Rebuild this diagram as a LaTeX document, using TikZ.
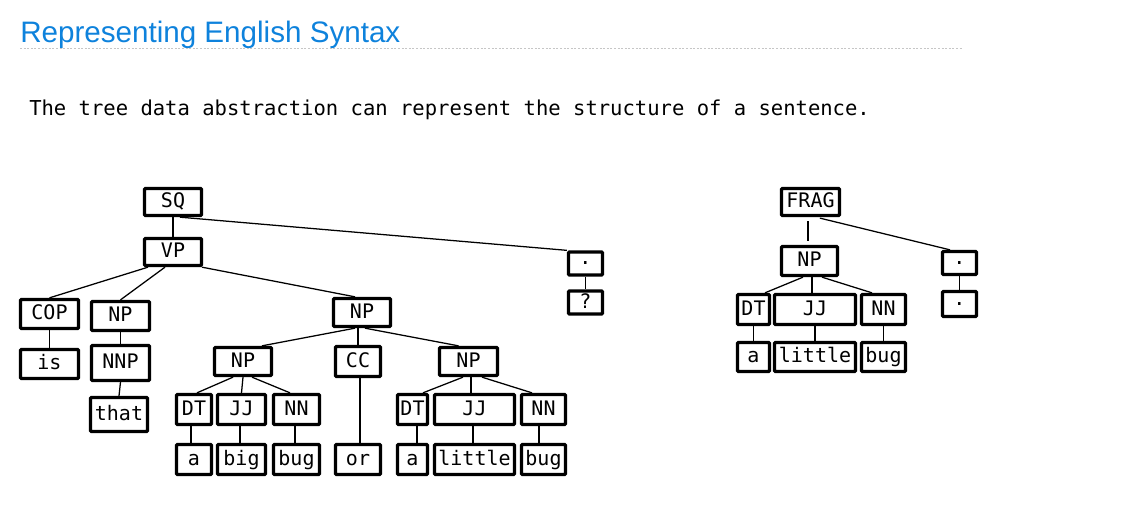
\documentclass[tikz,border=0pt]{standalone}
\usepackage{fontspec}
\setmonofont{DejaVu Sans Mono}
\newfontfamily\headfont{Liberation Sans}
\usetikzlibrary{calc}
\definecolor{headblue}{RGB}{14,130,220}
\begin{document}
\begin{tikzpicture}[x=0.75pt,y=-0.75pt,
  tbox/.style 2 args={draw, line width=2.5pt, rounded corners=0.8pt, inner sep=0pt,
    minimum width={(#1-3)*0.75pt}, minimum height={(#2-3)*0.75pt},
    text height=0.88em, text depth=0pt,
    font=\ttfamily\fontsize{15}{18}\selectfont},
  dotbox/.style={text height=, text depth=},
  edge/.style={line width=0.95pt}]
\useasboundingbox (0,0) rectangle (1125,508);

% heading, rule and caption
\node[anchor=base west, inner sep=0pt, text=headblue, font=\headfont\fontsize{22.2}{26}\selectfont] (title) at (20,42) {Representing English Syntax};
\coordinate (ruleL) at (20,48.5);
\coordinate (ruleR) at (962,48.5);
\draw[gray!45, line width=0.6pt, dash pattern=on 1.5pt off 1.2pt] (ruleL) -- (ruleR);
\node[anchor=base west, inner sep=0pt, font=\ttfamily\fontsize{15.4}{18}\selectfont] (caption) at (29,115) {The tree data abstraction can represent the structure of a sentence.};

% ---- left tree: "is that a big bug or a little bug ?"
\node[tbox={60}{30}] (sq)   at (173,202)   {SQ};
\node[tbox={60}{30}] (vp)   at (173,252)   {VP};
\node[tbox={61}{32}] (cop)  at (49.5,314)  {COP};
\node[tbox={61}{32}] (npa)  at (120.5,316) {NP};
\node[tbox={61}{32}] (is)   at (49.5,364)  {is};
\node[tbox={61}{38}] (nnp)  at (120.5,363) {NNP};
\node[tbox={60}{37}] (that) at (119,414.5) {that};
\node[tbox={60}{31}] (npb)  at (362,312.5) {NP};
\node[tbox={60}{31}] (npc)  at (243,361.5) {NP};
\node[tbox={48}{33}] (cc)   at (358,361.5) {CC};
\node[tbox={61}{31}] (npd)  at (468.5,361.5) {NP};
\node[tbox={38}{33}] (dta)  at (194,409.5)   {DT};
\node[tbox={51}{33}] (jja)  at (241.5,409.5) {JJ};
\node[tbox={49}{33}] (nna)  at (296.5,409.5) {NN};
\node[tbox={38}{33}] (wa)   at (194,459.5)   {a};
\node[tbox={51}{33}] (wbig) at (241.5,459.5) {big};
\node[tbox={49}{33}] (wbug) at (296.5,459.5) {bug};
\node[tbox={48}{33}] (wor)  at (358,459.5)   {or};
\node[tbox={33}{33}] (dtb)  at (412.5,409.5) {DT};
\node[tbox={83}{33}] (jjb)  at (474.5,409.5) {JJ};
\node[tbox={47}{33}] (nnb)  at (543.5,409.5) {NN};
\node[tbox={33}{33}] (wa2)  at (412.5,459.5) {a};
\node[tbox={83}{33}] (wlit) at (474.5,459.5) {little};
\node[tbox={47}{33}] (wbug2) at (543.5,459.5) {bug};
\node[tbox={37}{26}, dotbox] (pa) at (585.5,263.5) {.};
\node[tbox={37}{26}] (qm)   at (585.5,302.5) {?};

\draw[edge] (sq.south) -- (vp.north);
\draw[edge] ($(sq.south)+(7,0)$) -- (pa.north west);
\draw[edge] (pa.south) -- (qm.north);
\draw[edge] ($(vp.south)+(-25,0)$) -- (cop.north);
\draw[edge] ($(vp.south)+(-8,0)$) -- (npa.north);
\draw[edge] ($(vp.south)+(29,0)$) -- ($(npb.north)+(-7,0)$);
\draw[edge] (cop.south) -- (is.north);
\draw[edge] (npa.south) -- (nnp.north);
\draw[edge] (nnp.south) -- (that.north);
\draw[edge] ($(npb.south)+(-7,0)$) -- ($(npc.north)+(19,0)$);
\draw[edge] ($(npb.south)+(-4,0)$) -- (cc.north);
\draw[edge] ($(npb.south)+(3,0)$) -- ($(npd.north)+(-10,0)$);
\draw[edge] ($(npc.south)+(-10,0)$) -- ($(dta.north)+(3,0)$);
\draw[edge] (npc.south) -- (jja.north);
\draw[edge] ($(npc.south)+(9,0)$) -- ($(nna.north)+(-6.5,0)$);
\draw[edge] ($(dta.south)+(-3,0)$) -- ($(wa.north)+(-3,0)$);
\draw[edge] ($(jja.south)+(-1.5,0)$) -- ($(wbig.north)+(-1.5,0)$);
\draw[edge] ($(nna.south)+(-1.5,0)$) -- ($(wbug.north)+(-1.5,0)$);
\draw[edge] ($(cc.south)+(2,0)$) -- ($(wor.north)+(2,0)$);
\draw[edge] ($(npd.south)+(-5.5,0)$) -- ($(dtb.north)+(10.5,0)$);
\draw[edge] ($(npd.south)+(2.5,0)$) -- ($(jjb.north)+(-3.5,0)$);
\draw[edge] ($(npd.south)+(13.5,0)$) -- ($(nnb.north)+(-11.5,0)$);
\draw[edge] ($(dtb.south)+(4.5,0)$) -- ($(wa2.north)+(4.5,0)$);
\draw[edge] ($(jjb.south)+(-1.5,0)$) -- ($(wlit.north)+(-1.5,0)$);
\draw[edge] ($(nnb.south)+(-4.5,0)$) -- ($(wbug2.north)+(-4.5,0)$);

% ---- right tree: "a little bug ."
\node[tbox={61}{30}] (frag) at (810.5,202) {FRAG};
\node[tbox={59}{32}] (npr)  at (809.5,261) {NP};
\node[tbox={35}{33}] (dtr)  at (753.5,309.5) {DT};
\node[tbox={84}{33}] (jjr)  at (815,309.5)   {JJ};
\node[tbox={47}{33}] (nnr)  at (883.5,309.5) {NN};
\node[tbox={35}{32}] (wa3)  at (753.5,357) {a};
\node[tbox={84}{32}] (wlit3) at (815,357)  {little};
\node[tbox={47}{32}] (wbug3) at (883.5,357) {bug};
\node[tbox={37}{26}, dotbox] (pb) at (959.5,263) {.};
\node[tbox={37}{28}, dotbox] (pc) at (959.5,304) {.};

\draw[edge, shorten <=3pt, shorten >=3pt] ($(frag.south)+(-2.5,0)$) -- ($(npr.north)+(-1.5,0)$);
\draw[edge, shorten <=3pt] ($(frag.south)+(5.5,0)$) -- ($(pb.north)+(-9.5,0)$);
\draw[edge] ($(npr.south)+(-6.5,0)$) -- ($(dtr.north)+(11.5,0)$);
\draw[edge] ($(npr.south)+(2.5,0)$) -- ($(jjr.north)+(-3,0)$);
\draw[edge] ($(npr.south)+(12.5,0)$) -- ($(nnr.north)+(-11.5,0)$);
\draw[edge] (dtr.south) -- (wa3.north);
\draw[edge] (jjr.south) -- (wlit3.north);
\draw[edge] (nnr.south) -- (wbug3.north);
\draw[edge] (pb.south) -- (pc.north);
\end{tikzpicture}
\end{document}
